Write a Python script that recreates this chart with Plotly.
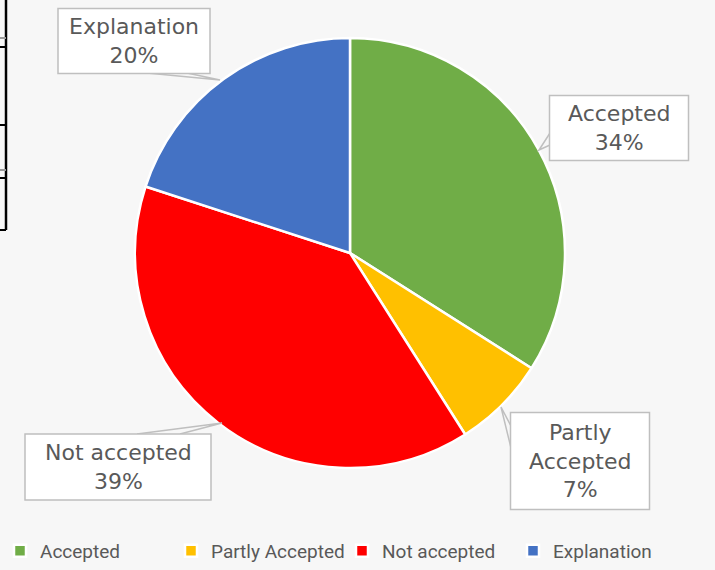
import plotly.graph_objects as go

categories = ["Accepted", "Partly Accepted", "Not accepted", "Explanation"]
values = [34, 7, 39, 20]
colors = ["#70ad47", "#ffc000", "#ff0000", "#4472c4"]
label_texts = ["Accepted<br>34%", "Partly<br>Accepted<br>7%", "Not accepted<br>39%", "Explanation<br>20%"]

W, H = 715, 570
cx, cy, r = 350, 253, 215

fig = go.Figure(go.Pie(
    labels=categories, values=values, sort=False, direction="clockwise", rotation=0,
    marker=dict(colors=colors, line=dict(color="white", width=2.5)),
    textinfo="none", hoverinfo="label+percent",
    domain=dict(x=[(cx - r) / W, (cx + r) / W], y=[(H - cy - r) / H, (H - cy + r) / H]),
))

# label boxes (pixel centres) and callout pointers
boxes = [
    dict(cx=619, cy=128, w=139, h=65),
    dict(cx=580, cy=461, w=139, h=97),
    dict(cx=118, cy=467, w=186, h=66),
    dict(cx=134, cy=41, w=152, h=65),
]
pointers = [
    [(550, 133), (539, 150), (550, 145)],
    [(512, 428), (501, 407), (512, 452)],
    [(137, 434), (222, 423), (180, 434)],
    [(147, 73), (220, 80), (187, 73)],
]

shapes = []
annotations = []
for t, b, p in zip(label_texts, boxes, pointers):
    path = "M {} {} L {} {} L {} {}".format(p[0][0], H - p[0][1], p[1][0], H - p[1][1], p[2][0], H - p[2][1])
    shapes.append(dict(type="path", xref="x", yref="y", path=path,
                       line=dict(color="#bfbfbf", width=1.5), layer="above"))
    shapes.append(dict(type="rect", xref="x", yref="y",
                       x0=b["cx"] - b["w"] / 2, x1=b["cx"] + b["w"] / 2,
                       y0=H - b["cy"] - b["h"] / 2, y1=H - b["cy"] + b["h"] / 2,
                       fillcolor="white", line=dict(color="#bfbfbf", width=1.5), layer="above"))
    annotations.append(dict(x=b["cx"], y=H - b["cy"], xref="x", yref="y", text=t,
                            showarrow=False, align="center",
                            font=dict(family="DejaVu Sans, sans-serif", size=22, color="#595959")))

# cropped table border remnants at left edge
shapes.append(dict(type="line", xref="x", yref="y", x0=6, x1=6, y0=H, y1=H - 230,
                   line=dict(color="black", width=2.5)))
for yy, col in [(38, "#999999"), (47, "black"), (125, "black"), (170, "#999999"), (178, "black"), (230, "black")]:
    shapes.append(dict(type="line", xref="x", yref="y", x0=0, x1=6, y0=H - yy, y1=H - yy,
                       line=dict(color=col, width=2)))

fig.update_layout(
    width=W, height=H, margin=dict(l=0, r=0, t=0, b=0, autoexpand=False),
    paper_bgcolor="#f7f7f7", plot_bgcolor="rgba(0,0,0,0)",
    xaxis=dict(range=[0, W], visible=False, fixedrange=True),
    yaxis=dict(range=[0, H], visible=False, fixedrange=True),
    shapes=shapes, annotations=annotations,
    showlegend=True,
    legend=dict(orientation="h", x=0.0, xanchor="left", y=0.0, yanchor="bottom",
                font=dict(family="Roboto, sans-serif", size=19, color="#595959"),
                itemwidth=30, entrywidth=126, entrywidthmode="pixels",
                bgcolor="rgba(0,0,0,0)", traceorder="normal"),
)

fig.write_html("out.html", config={"displayModeBar": False},
               post_script="document.body.style.margin='0';document.body.style.background='#f7f7f7';")
